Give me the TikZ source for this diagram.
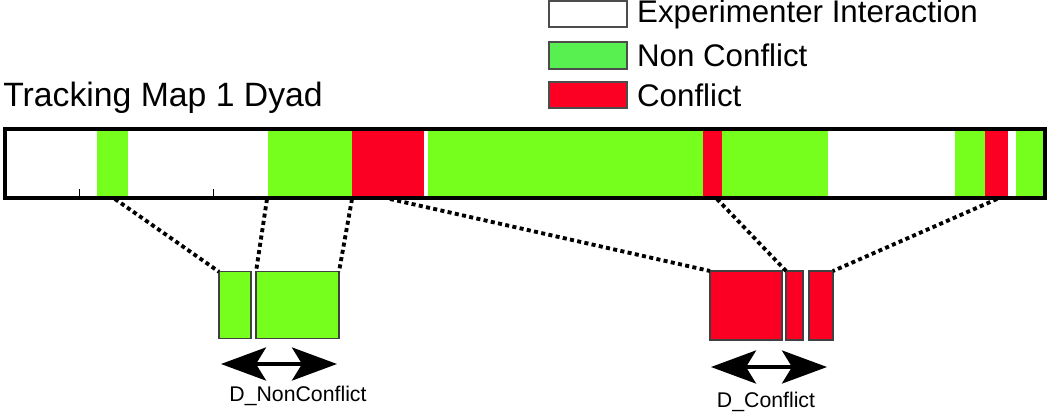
\documentclass[tikz,border=0pt]{standalone}
\usepackage{fontspec}
\setmainfont{Liberation Sans}
\usetikzlibrary{arrows.meta,positioning}
\definecolor{verdeBarra}{RGB}{118,255,28}
\definecolor{verdeLeyenda}{RGB}{88,240,80}
\definecolor{rojoBarra}{RGB}{252,0,36}

\begin{document}
\begin{tikzpicture}[
    x=0.02cm, y=-0.02cm,
    caja/.style={draw=black!75,line width=.7pt,inner sep=0pt,outer sep=0pt,
        minimum height=1.33cm},
    enlace/.style={line width=2.2pt,dash pattern=on 2.3pt off 1.9pt},
    duracion/.style={line width=2.2pt,
        {Stealth[length=.9cm,width=.66cm,inset=.2cm]}-{Stealth[length=.9cm,width=.66cm,inset=.2cm]}},
    every node/.style={font=\fontsize{12.1}{14}\selectfont}]
    \useasboundingbox (0,0) rectangle (1050,412);

    % Barra de seguimiento con sus tramos.
    \foreach \ini/\fin/\col in {97/128/verdeBarra,268/352/verdeBarra,
        352/424/rojoBarra,428/703/verdeBarra,703/722/rojoBarra,
        722/828/verdeBarra,955/985/verdeBarra,985/1008/rojoBarra,
        1016/1043/verdeBarra}
        \fill[\col] (\ini,131) rectangle (\fin,196);
    \foreach \t in {79,213}
        \draw[line width=.5pt] (\t,196) -- (\t,189);
    \draw[line width=2pt] (5,129) rectangle (1045,198);
    \node[anchor=base west,inner sep=0pt,font=\fontsize{19.2}{22}\selectfont]
        (titulo) at (3,107) {Tracking Map 1 Dyad};

    % Leyenda.
    \foreach \nom/\col/\yc/\txt in {exp/white/14/Experimenter Interaction,
        nc/verdeLeyenda/55.5/Non Conflict,c/rojoBarra/95/Conflict} {
        \node[draw=black!70,line width=.9pt,fill=\col,minimum width=1.56cm,
            minimum height=.53cm,inner sep=0pt] (ley-\nom) at (588,\yc) {};
        \node[right=.18cm of ley-\nom,inner sep=0pt,
            font=\fontsize{17.8}{20}\selectfont] (txt-\nom) {\txt};
    }

    % Tramos ampliados.
    \node[caja,fill=verdeBarra,minimum width=.64cm] (nc1) at (235,305) {};
    \node[caja,fill=verdeBarra,minimum width=1.66cm] (nc2) at (297.5,305) {};
    \node[caja,fill=rojoBarra,minimum width=1.44cm,minimum height=1.38cm]
        (c1) at (746,305.5) {};
    \node[caja,fill=rojoBarra,minimum width=.34cm,minimum height=1.38cm]
        (c2) at (794.5,305.5) {};
    \node[caja,fill=rojoBarra,minimum width=.48cm,minimum height=1.38cm]
        (c3) at (821,305.5) {};

    % Lineas de ampliacion.
    \foreach \nom/\xb in {a/115,b/267,c/352,d/390,e/717,f/997}
        \coordinate (p\nom) at (\xb,199);
    \draw[enlace] (pa) -- (nc1.north west);
    \draw[enlace] (pb) -- (nc2.north west);
    \draw[enlace] (pc) -- (nc2.north east);
    \draw[enlace] (pd) -- (c1.north west);
    \draw[enlace] (pe) -- (c2.north west);
    \draw[enlace] (pf) -- (c3.north east);

    % Duraciones.
    \coordinate (ncL) at (221,364);
    \coordinate (ncR) at (337,364);
    \coordinate (cL) at (711,367);
    \coordinate (cR) at (827,367);
    \draw[duracion] (ncL) -- (ncR);
    \draw[duracion] (cL) -- (cR);
    \node (etq-nc) at (298,396) {D\_NonConflict};
    \node (etq-c) at (766,402) {D\_Conflict};
\end{tikzpicture}
\end{document}
